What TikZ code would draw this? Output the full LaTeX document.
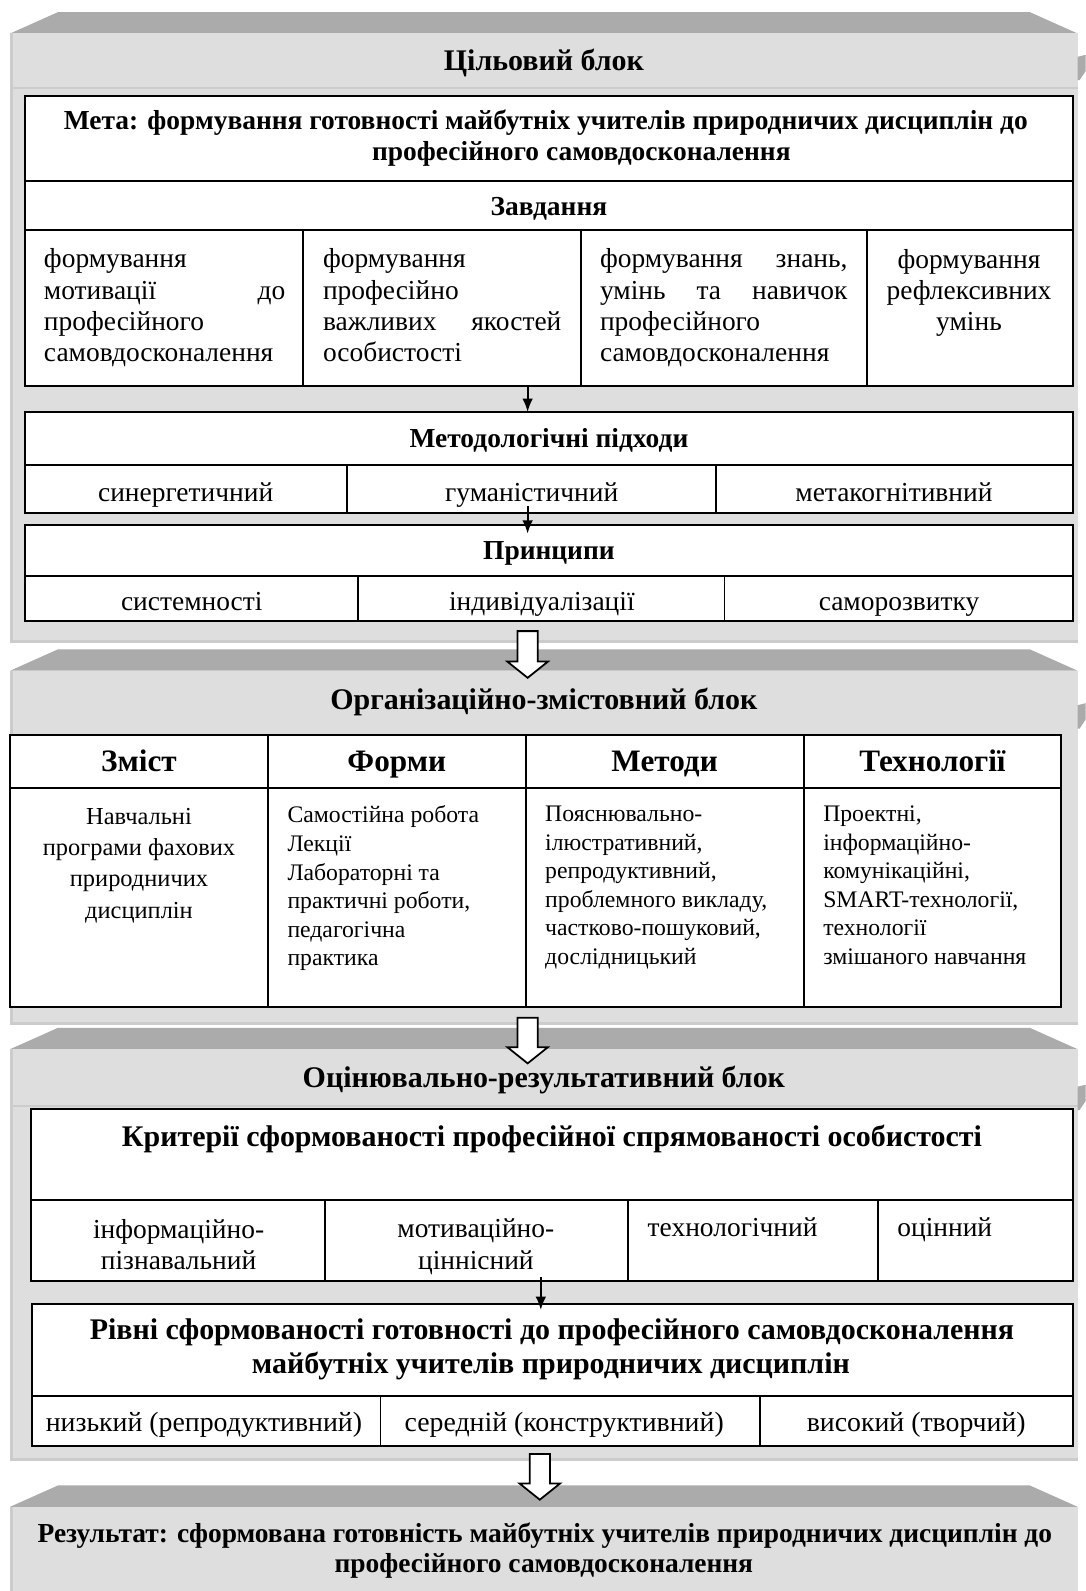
\documentclass[tikz,border=0pt]{standalone}
\usepackage{fontspec}
\setmainfont{Liberation Serif}
\usetikzlibrary{arrows.meta}
\definecolor{bevel}{gray}{0.67}
\definecolor{panel}{gray}{0.87}
\definecolor{edge}{gray}{0.80}
\newcommand{\fnorm}{\fontsize{15.4}{17.6}\selectfont}
\newcommand{\fsmall}{\fontsize{13.3}{16}\selectfont}
\newcommand{\fcol}{\fontsize{13.7}{17.6}\selectfont}
\newcommand{\fmid}{\fontsize{16.8}{19.3}\selectfont}
\newcommand{\fbig}{\fontsize{17.5}{20}\selectfont}
\tikzstyle{arrow} = [line width=1.1pt,-{Latex[length=7.5pt,width=6pt]}]
\tikzstyle{frame} = [line width=1.1pt]
\tikzstyle{hollow} = [draw=black,fill=white,line width=1pt]
\tikzstyle{ttl} = [font=\fnorm\bfseries,anchor=base,inner sep=0pt]
\tikzstyle{blockttl} = [ttl,font=\fmid\bfseries]
\tikzstyle{hdr} = [font=\fbig\bfseries,anchor=base,inner sep=0pt]
\tikzstyle{txt} = [font=\fnorm,anchor=base,inner sep=0pt]
\tikzstyle{multi} = [font=\fnorm,anchor=north west,inner sep=0pt,align=left,execute at begin node=\strut]
\tikzstyle{smallmulti} = [multi,font=\fsmall]

\begin{document}
\begin{tikzpicture}[x=0.02cm,y=-0.02cm]
\useasboundingbox (0,0) rectangle (1070,1568);

% grey blocks
\foreach \t/\b in {12/634,640/1010,1013/1440,1464/1568}{
	\fill[bevel] (57,\t) -- (1015,\t) -- (1062,\t+21) -- (10,\t+21) -- cycle;
	\fill[panel] (10,\t+21) rectangle (1062,\b);
	\fill[edge] (10,\t+21) rectangle (13,\b);
}
\foreach \b in {634,1010,1440}{
	\fill[edge] (10,\b-3) rectangle (1062,\b);
}
\foreach \h in {86,1089}{
	\fill[edge] (10,\h) rectangle (1062,\h+2);
}
\foreach \m in {54,693,1069}{
	\fill[bevel] (1062,\m+2) -- (1070,\m) -- (1070,\m+16) -- (1064,\m+25) -- (1062,\m+25) -- cycle;
}

% Цільовий блок
\node[blockttl] (b1ttl) at (536,69) {Цільовий блок};
\fill[white] (25,95) rectangle (1057,380);
\draw[frame] (25,95) rectangle (1057,380);
\draw[frame] (25,178) -- (1057,178);
\draw[frame] (25,227) -- (1057,227);
\foreach \x in {299,573,854}
	\draw[frame] (\x,227) -- (\x,380);
\node[ttl] (meta1) at (538,128) {Мета: формування готовності майбутніх учителів природничих дисциплін до};
\node[ttl] (meta2) at (573,158) {професійного самовдосконалення};
\node[ttl] (zavd) at (541,212) {Завдання};
\node[multi,text width=4.76cm] (task1) at (43,242) {формування\\ мотивації\hfill до\\ професійного\\ самовдосконалення};
\node[multi,text width=4.7cm] (task2) at (318,242) {формування\\ професійно\\ важливих\hfill якостей\\ особистості};
\node[multi,text width=4.88cm] (task3) at (591,242) {формування\hfill знань,\\ умінь\hfill та\hfill навичок\\ професійного\\ самовдосконалення};
\node[multi,align=center,anchor=north] (task4) at (955,245) {формування\\ рефлексивних\\ умінь};

\coordinate (tasksb) at (520,380);
\coordinate (pidht) at (520,406);
\draw[arrow] (tasksb) -- (pidht);

\fill[white] (25,406) rectangle (1057,506);
\draw[frame] (25,406) rectangle (1057,506);
\draw[frame] (25,458) -- (1057,458);
\foreach \x in {342,706}
	\draw[frame] (\x,458) -- (\x,506);
\node[ttl] (pidh) at (541,441) {Методологічні підходи};
\node[txt] (synerg) at (183,494) {синергетичний};
\node[txt] (human) at (524,494) {гуманістичний};
\node[txt] (metakog) at (881,494) {метакогнітивний};

\fill[white] (25,517) rectangle (1057,612);
\draw[frame] (25,517) rectangle (1057,612);
\draw[frame] (25,568) -- (1057,568);
\foreach \x in {353,714}
	\draw[frame] (\x,568) -- (\x,612);
\node[ttl] (pryn) at (541,551) {Принципи};
\node[txt] (system) at (189,602) {системності};
\node[txt] (indiv) at (534,602) {індивідуалізації};
\node[txt] (selfdev) at (886,602) {саморозвитку};

\coordinate (humanb) at (520,499);
\coordinate (prynt) at (520,526);
\draw[arrow] (humanb) -- (prynt);

% Організаційно-змістовний блок
\node[blockttl] (b2ttl) at (536,699) {Організаційно-змістовний блок};
\fill[white] (10,724) rectangle (1046,992);
\draw[frame] (10,724) rectangle (1046,992);
\draw[frame] (10,777) -- (1046,777);
\foreach \x in {264,518,792}
	\draw[frame] (\x,724) -- (\x,992);
\node[hdr] (zmist) at (137,760) {Зміст};
\node[hdr] (formy) at (391,760) {Форми};
\node[hdr] (metody) at (655,760) {Методи};
\node[hdr] (tekhn) at (919,760) {Технології};
\node[multi,font=\fcol,align=center,anchor=north] (zmisttxt) at (137,796) {Навчальні\\ програми фахових\\ природничих\\ дисциплін};
\node[smallmulti] (formytxt) at (283,794) {Самостійна робота\\ Лекції\\ Лабораторні та\\ практичні роботи,\\ педагогічна\\ практика};
\node[smallmulti] (metodytxt) at (537,794) {Пояснювально-\\ ілюстративний,\\ репродуктивний,\\ проблемного викладу,\\ частково-пошуковий,\\ дослідницький};
\node[smallmulti] (tekhntxt) at (811,794) {Проектні,\\ інформаційно-\\ комунікаційні,\\ SMART-технології,\\ технології\\ змішаного навчання};

% Оцінювально-результативний блок
\node[blockttl] (b3ttl) at (536,1072) {Оцінювально-результативний блок};
\fill[white] (31,1093) rectangle (1057,1262);
\draw[frame] (31,1093) rectangle (1057,1262);
\draw[frame] (31,1183) -- (1057,1183);
\foreach \x in {320,619,865}
	\draw[frame] (\x,1183) -- (\x,1262);
\node[blockttl] (kryt) at (544,1130) {Критерії сформованості професійної спрямованості особистості};
\node[multi,align=center,anchor=north] (inform) at (176,1201) {інформаційно-\\ пізнавальний};
\node[multi,align=center,anchor=north] (motiv) at (469,1201) {мотиваційно-\\ ціннісний};
\node[txt,anchor=base west] (tekhnol) at (638,1219) {технологічний};
\node[txt,anchor=base west] (otsin) at (884,1219) {оцінний};

\coordinate (krytb) at (533,1259);
\coordinate (rivnit) at (533,1291);

\fill[white] (32,1285) rectangle (1057,1425);
\draw[frame] (32,1285) rectangle (1057,1425);
\draw[frame] (32,1376) -- (1057,1376);
\foreach \x in {375,749}
	\draw[frame] (\x,1376) -- (\x,1425);
\draw[arrow] (krytb) -- (rivnit);
\node[blockttl] (rivni1) at (544,1320) {Рівні сформованості готовності до професійного самовдосконалення};
\node[blockttl] (rivni2) at (543,1354) {майбутніх учителів природничих дисциплін};
\node[txt,font=\fontsize{15.6}{18}\selectfont] (low) at (201,1411) {низький (репродуктивний)};
\node[txt,font=\fontsize{15.6}{18}\selectfont] (middle) at (556,1411) {середній (конструктивний)};
\node[txt,font=\fontsize{15.6}{18}\selectfont] (high) at (903,1411) {високий (творчий)};

% Результат
\node[ttl] (res1) at (537,1520) {Результат: сформована готовність майбутніх учителів природничих дисциплін до};
\node[ttl] (res2) at (536,1550) {професійного самовдосконалення};

% block arrows
\foreach \ax/\ay/\at in {520/622/668,520/1003/1048,532/1433/1478}{
	\draw[hollow] (\ax-10,\ay) -- (\ax+10,\ay) -- (\ax+10,\at-16) -- (\ax+20,\at-16) -- (\ax,\at) -- (\ax-20,\at-16) -- (\ax-10,\at-16) -- cycle;
}
\end{tikzpicture}
\end{document}
